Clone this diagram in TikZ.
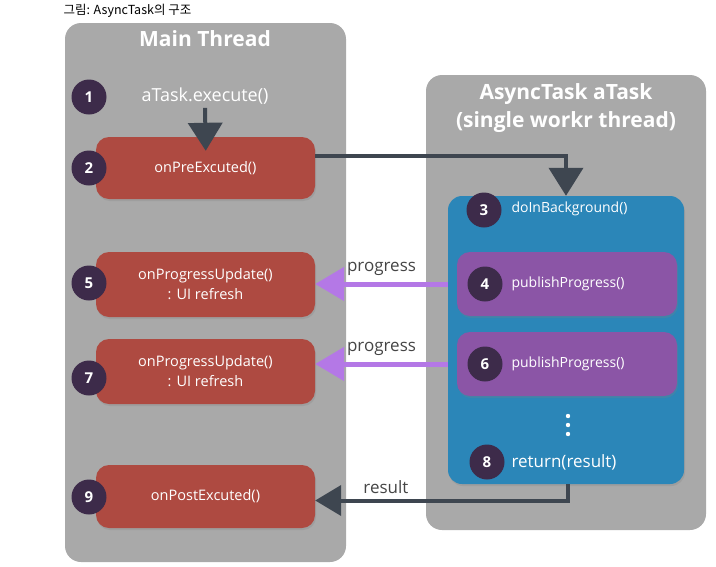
\documentclass[tikz,border=0pt]{standalone}
\usepackage{fontspec}
\setmainfont{Open Sans}
\newfontfamily\krfont{Noto Sans CJK KR}
\usetikzlibrary{arrows.meta, positioning, shadows}

\definecolor{panelgray}{HTML}{A9A9A9}
\definecolor{boxred}{HTML}{AE4A41}
\definecolor{bgblue}{HTML}{2B86B8}
\definecolor{pubpurple}{HTML}{8B55A6}
\definecolor{stepdark}{HTML}{3D2B4A}
\definecolor{arrowdark}{HTML}{3E4650}
\definecolor{arrowviolet}{HTML}{B478E6}
\definecolor{labelgray}{HTML}{454545}

\begin{document}
\begin{tikzpicture}[x=1pt,y=-1pt,
  panel/.style={fill=panelgray, rounded corners=16pt},
  title/.style={text=white, font=\fontsize{21}{24}\bfseries\selectfont},
  redbox/.style={fill=boxred, rounded corners=13pt, minimum width=219pt,
    text=white, align=center, font=\fontsize{14.5}{20}\selectfont,
    drop shadow={opacity=.25, shadow xshift=1pt, shadow yshift=-2pt}},
  pubbox/.style={fill=pubpurple, rounded corners=13pt, minimum width=220pt,
    minimum height=64pt, drop shadow={opacity=.25, shadow xshift=1pt, shadow yshift=-2pt}},
  stepnum/.style={circle, fill=stepdark, minimum size=35pt, inner sep=0pt,
    text=white, font=\fontsize{15}{15}\bfseries\selectfont},
  call/.style={text=white, font=\fontsize{14}{16}\selectfont},
  darrow/.style={draw=arrowdark, line width=4pt, -{Triangle[width=34pt,length=28pt]}},
  varrow/.style={draw=arrowviolet, line width=5pt, -{Triangle[width=33pt,length=29pt]}},
  arrlabel/.style={text=labelgray, font=\fontsize{17}{18}\selectfont}
]
\useasboundingbox (0,0) rectangle (716,566);
% Caption
\node[anchor=west, font=\krfont\fontsize{12.5}{14}\selectfont] (caption) at (60,11) {그림: AsyncTask의 구조};
% The two thread panels
\fill[panel] (65,23) rectangle (346,562);
\fill[panel] (426,75) rectangle (706,530);
\node[title] (mainTitle) at (205,39) {Main Thread};
\node[title, align=center, font=\fontsize{21}{28}\bfseries\selectfont] (asyncTitle) at (566,108)
  {AsyncTask aTask\\(single workr thread)};
% Main thread calls
\node[call, font=\fontsize{18}{20}\selectfont] (exec) at (205,96) {aTask.execute()};
\node[redbox, minimum height=62pt] (pre) at (205.5,168) {onPreExcuted()};
\node[redbox, minimum height=65pt] (upd5) at (205.5,284.5) {onProgressUpdate()\\: UI refresh};
\node[redbox, minimum height=65pt] (upd7) at (205.5,371.5) {onProgressUpdate()\\: UI refresh};
\node[redbox, minimum height=63pt] (post) at (205.5,496.5) {onPostExcuted()};
% Worker thread
\node[fill=bgblue, rounded corners=14pt, minimum width=236pt, minimum height=288pt,
  drop shadow={opacity=.25, shadow xshift=1pt, shadow yshift=-2pt}] (bg) at (566,340) {};
\node[call, anchor=west] (doBg) at (508,209) {doInBackground()};
\node[pubbox] (pub4) at (567,284) {};
\node[pubbox] (pub6) at (567,364) {};
\node[call, anchor=west] at (508,284) {publishProgress()};
\node[call, anchor=west] at (508,364) {publishProgress()};
\node[call, anchor=west, font=\fontsize{17}{18}\selectfont] (ret) at (508,462) {return(result)};
\foreach \y in {416,425,434}
  \fill[white] (568,\y) circle (2.2pt);
% Step numbers
\node[stepnum] (s1) at (89,97) {1};
\node[stepnum] (s2) at (89,168) {2};
\node[stepnum] (s3) at (484,210) {3};
\node[stepnum] (s4) at (485,284) {4};
\node[stepnum] (s5) at (89,283) {5};
\node[stepnum] (s6) at (485,364) {6};
\node[stepnum] (s7) at (89,378) {7};
\node[stepnum] (s8) at (487,462) {8};
\node[stepnum] (s9) at (89,497) {9};
% Arrows
\draw[darrow, shorten >=-14pt] (exec.south) -- (pre.north);
\draw[darrow] ([yshift=12pt]pre.east) -| (bg.north);
\draw[varrow] (pub4.west -| bg.west) -- (upd5.east |- pub4.west)
  node[arrlabel, midway, above=3pt] {progress};
\draw[varrow] (pub6.west -| bg.west) -- (upd7.east |- pub6.west)
  node[arrlabel, midway, above=3pt] {progress};
\draw[darrow, -{Triangle[width=30pt,length=26pt]}] ([xshift=2pt]bg.south) |- ([yshift=-4pt]post.east)
  node[arrlabel, pos=.86, above=2pt] {result};
\end{tikzpicture}
\end{document}
